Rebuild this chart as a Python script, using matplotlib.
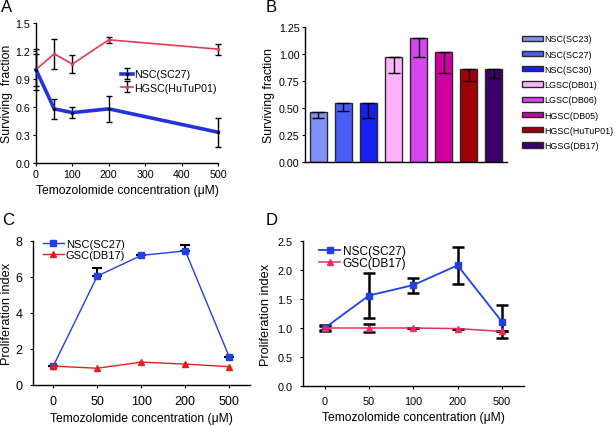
import matplotlib
matplotlib.use("Agg")
import matplotlib.pyplot as plt
from matplotlib.patches import Patch

plt.rcParams['font.family'] = ['Liberation Sans', 'DejaVu Sans']
plt.rcParams['xtick.direction'] = 'out'
plt.rcParams['ytick.direction'] = 'out'
plt.rcParams['xtick.major.size'] = 2.5
plt.rcParams['ytick.major.size'] = 2.5
plt.rcParams['axes.linewidth'] = 1.0

# Panel A - surviving fraction vs temozolomide
conc_a = [0, 50, 100, 200, 500]
nsc_a = [1.0, 0.58, 0.54, 0.58, 0.33]
nsc_a_err = [0.22, 0.11, 0.055, 0.14, 0.155]
hgsc_a = [1.0, 1.17, 1.06, 1.32, 1.22]
hgsc_a_err = [0.17, 0.16, 0.10, 0.035, 0.06]

# Panel B - surviving fraction per cell line
lines_b = ['NSC(SC23)', 'NSC(SC27)', 'NSC(SC30)', 'LGSC(DB01)', 'LGSC(DB06)',
           'HGSC(DB05)', 'HGSC(HuTuP01)', 'HGSG(DB17)']
surv_b = [0.46, 0.55, 0.55, 0.97, 1.15, 1.02, 0.86, 0.86]
surv_b_err = [0.05, 0.08, 0.14, 0.15, 0.18, 0.20, 0.11, 0.08]
colors_b = ['#8090f8', '#4a5cf8', '#1420f0', '#ffb3ff', '#d844f0',
            '#d000a0', '#a00008', '#3c0068']

# Panels C and D - proliferation index
conc_labels = ['0', '50', '100', '200', '500']
nsc_c = [1.05, 6.05, 7.2, 7.45, 1.55]
nsc_c_err = [0, 0.45, 0, 0.35, 0]
gsc_c = [1.05, 0.93, 1.27, 1.16, 1.02]

nsc_d = [1.0, 1.56, 1.74, 2.08, 1.11]
nsc_d_err = [0.05, 0.39, 0.13, 0.32, 0.28]
gsc_d = [1.0, 1.0, 1.0, 0.99, 0.94]
gsc_d_err = [0.03, 0.07, 0, 0, 0]

fig = plt.figure(figsize=(6.15, 4.27), dpi=100)

def px(l, t, r, b):
    W, H = 615.0, 427.0
    return [l / W, 1 - b / H, (r - l) / W, (b - t) / H]

def clean(ax):
    ax.spines['top'].set_visible(False)
    ax.spines['right'].set_visible(False)

# ---- A ----
axA = fig.add_axes(px(36, 24, 218, 164))
clean(axA)
axA.errorbar(conc_a, hgsc_a, yerr=hgsc_a_err, color='#e03c55', lw=1.2,
             ecolor='k', elinewidth=1, capsize=2.5, clip_on=False,
             marker='.', ms=3, mfc='#e03c55', label='HGSC(HuTuP01)', zorder=3)
axA.errorbar(conc_a, nsc_a, yerr=nsc_a_err, color='#2233dd', lw=2.6,
             ecolor='k', elinewidth=1, capsize=2.5, clip_on=False,
             marker='.', ms=3, mfc='#111', mec='#111', label='NSC(SC27)', zorder=3)
axA.set_xlim(0, 500)
axA.set_ylim(0, 1.5)
axA.set_xticks([0, 100, 200, 300, 400, 500])
axA.set_yticks([0, 0.3, 0.6, 0.9, 1.2, 1.5])
axA.set_yticklabels(['0.0', '0.3', '0.6', '0.9', '1.2', '1.5'])
axA.tick_params(labelsize=7.7, pad=1.5)
axA.set_xlabel('Temozolomide concentration (\u03bcM)', fontsize=8.7, labelpad=4)
axA.set_ylabel('Surviving  fraction', fontsize=8.8, labelpad=2)
h, l = axA.get_legend_handles_labels()
axA.legend(h[::-1], l[::-1], loc='upper left', bbox_to_anchor=(116 / 615, 1 - 65 / 427),
           bbox_transform=fig.transFigure, frameon=False, fontsize=7.7,
           handlelength=1.1, handletextpad=0.1, borderpad=0, labelspacing=0.3)

# ---- B ----
axB = fig.add_axes(px(305, 28, 507, 163))
clean(axB)
xb = range(len(surv_b))
axB.bar(xb, surv_b, width=0.68, color=colors_b, edgecolor='#2a2a2a', lw=1)
axB.errorbar(xb, surv_b, yerr=[surv_b_err, [0] * len(surv_b)], fmt='none',
             ecolor='k', elinewidth=1, capsize=4.5, capthick=1)
axB.set_xlim(-0.53, 7.52)
axB.set_ylim(0, 1.25)
axB.set_xticks([])
axB.set_yticks([0, 0.25, 0.5, 0.75, 1.0, 1.25])
axB.set_yticklabels(['0.00', '0.25', '0.50', '0.75', '1.00', '1.25'])
axB.tick_params(labelsize=7.7, pad=1.5)
axB.set_ylabel('Surviving fraction', fontsize=8.8, labelpad=3)
handles_b = [Patch(facecolor=c, edgecolor='#2a2a2a', lw=1) for c in colors_b]
axB.legend(handles_b, lines_b, loc='upper left', bbox_to_anchor=(518 / 615, 1 - 31 / 427),
           bbox_transform=fig.transFigure, frameon=False, fontsize=6.4,
           handlelength=2.3, handleheight=0.55, handletextpad=0.15,
           borderpad=0, labelspacing=0.7)

# ---- C ----
axC = fig.add_axes(px(33, 242, 250, 386))
clean(axC)
xc = range(len(conc_labels))
axC.errorbar(xc, nsc_c, yerr=[[0] * 5, nsc_c_err], fmt='none', ecolor='k',
             elinewidth=1.5, capsize=3.5, capthick=1.5, zorder=2)
axC.plot(xc, nsc_c, color='#2040e0', lw=1, marker='s', ms=4.5,
         label='NSC(SC27)', zorder=3)
axC.plot(xc, gsc_c, color='#e02020', lw=1, marker='^', ms=4.5,
         label='GSC(DB17)', zorder=4)
axC.set_xlim(-0.46, 4.47)
axC.set_ylim(0, 8)
axC.set_xticks(list(xc))
axC.set_xticklabels(conc_labels)
axC.set_yticks([0, 2, 4, 6, 8])
axC.tick_params(labelsize=9, pad=5)
axC.set_xlabel('Temozolomide concentration (\u03bcM)', fontsize=8.7, labelpad=3)
axC.set_ylabel('Proliferation index', fontsize=9.2, labelpad=2)
axC.legend(loc='upper left', bbox_to_anchor=(37 / 615, 1 - 234 / 427),
           bbox_transform=fig.transFigure, frameon=False, fontsize=8,
           handlelength=1.9, handletextpad=0.2, borderpad=0, labelspacing=0.15)

# ---- D ----
axD = fig.add_axes(px(303, 242, 524, 387))
clean(axD)
xd = range(len(conc_labels))
axD.errorbar(xd, nsc_d, yerr=nsc_d_err, fmt='none', ecolor='k',
             elinewidth=1.8, capsize=4, capthick=1.8, zorder=2)
axD.errorbar(xd, gsc_d, yerr=gsc_d_err, fmt='none', ecolor='k',
             elinewidth=1.8, capsize=4, capthick=1.8, zorder=2)
axD.plot(xd, nsc_d, color='#2040e0', lw=1.3, marker='s', ms=4.5,
         label='NSC(SC27)', zorder=3)
axD.plot(xd, gsc_d, color='#e8305a', lw=1.1, marker='^', ms=4.5,
         label='GSC(DB17)', zorder=4)
axD.set_xlim(-0.49, 4.5)
axD.set_ylim(0, 2.5)
axD.set_xticks(list(xd))
axD.set_xticklabels(conc_labels)
axD.set_yticks([0, 0.5, 1.0, 1.5, 2.0, 2.5])
axD.set_yticklabels(['0.0', '0.5', '1.0', '1.5', '2.0', '2.5'])
axD.tick_params(labelsize=7.8, pad=5)
axD.set_xlabel('Temozolomide concentration (\u03bcM)', fontsize=8.7, labelpad=3)
axD.set_ylabel('Proliferation index', fontsize=9.2, labelpad=4)
axD.legend(loc='upper left', bbox_to_anchor=(313 / 615, 1 - 240 / 427),
           bbox_transform=fig.transFigure, frameon=False, fontsize=8.6,
           handlelength=1.8, handletextpad=0.2, borderpad=0, labelspacing=0.0)

# panel letters
for lab, x, y in [('A', 1, 0), ('B', 266, 0), ('C', 2, 213), ('D', 266, 213)]:
    fig.text(x / 615, 1 - y / 427, lab, fontsize=12, ha='left', va='top')

fig.savefig('out.png', dpi=100)
